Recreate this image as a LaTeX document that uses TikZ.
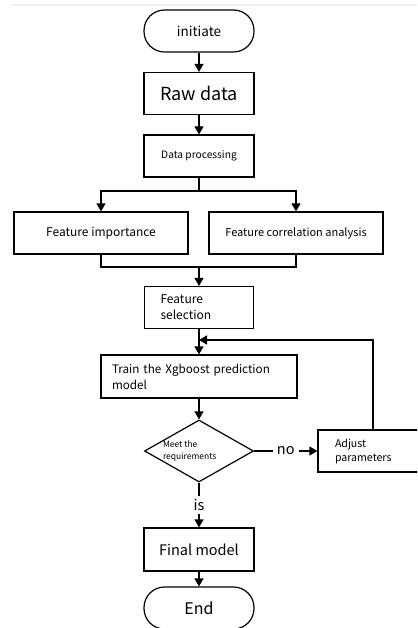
\documentclass[tikz,border=0pt]{standalone}
\usepackage{fontspec}
\setmainfont{Noto Sans CJK SC}
\usetikzlibrary{shapes.geometric, arrows.meta}

\begin{document}
\begin{tikzpicture}[x=1pt, y=-1pt,
	box/.style={draw, rectangle, line width=1.2pt, minimum height=42pt, inner sep=0pt, align=center},
	term/.style={box, rounded corners=20.5pt},
	arr/.style={-{Triangle[width=9pt,length=8pt]}, line width=1.2pt},
	line/.style={line width=1.2pt}]
		\useasboundingbox (0,0) rectangle (417,628);
		\clip (0,0) rectangle (417,628);
		\fill[white] (0,0) rectangle (417,628);
		\draw[gray!12, line width=2pt] (11,5) -- (417,5);

		% main column
		\node[term, minimum width=110pt, font=\fontsize{13.5}{16}\selectfont] (init) at (199,31) {initiate};
		\node[box, minimum width=110pt, font=\fontsize{18}{21}\selectfont] (raw) at (199,93.5) {Raw data};
		\node[box, minimum width=110pt, font=\fontsize{10.2}{12}\selectfont] (proc) at (199,156) {Data processing};

		\node[box, minimum width=174pt, font=\fontsize{12}{14}\selectfont] (imp) at (101,233) {Feature importance};
		\node[box, minimum width=174pt, font=\fontsize{11}{13}\selectfont] (corr) at (296,233) {Feature correlation analysis};

		\node[box, minimum width=109pt, text width=77pt, inner xsep=16pt, align=left, font=\fontsize{12}{16}\selectfont] (sel) at (199,307.5) {Feature\\selection};
		\node[box, minimum width=196pt, minimum height=43pt, text width=174pt, inner xsep=11pt, align=left, font=\fontsize{11.7}{16}\selectfont] (train) at (199,376.5) {Train the Xgboost prediction\\model};

		\node[draw, diamond, aspect=1.76, line width=1.2pt, minimum width=109pt, minimum height=62pt, inner sep=0pt, font=\fontsize{8.5}{12.5}\selectfont] (meet) at (199,451) {\hspace*{-21pt}\parbox{51pt}{Meet the\\requirements}};
		\node[box, minimum width=110pt, text width=76pt, inner xsep=17pt, align=left, font=\fontsize{10.6}{14}\selectfont] (adj) at (373,451) {Adjust\\parameters};

		\node[box, minimum width=110pt, minimum height=43pt, font=\fontsize{14.5}{17}\selectfont] (final) at (199,549.5) {Final model};
		\node[term, minimum width=110pt, font=\fontsize{16}{19}\selectfont] (end) at (199,608) {End};

		% connectors
		\draw[arr] (init) -- (raw);
		\draw[arr] (raw) -- (proc);
		\coordinate (split) at (199,191);
		\draw[line] (proc) -- (split);
		\draw[arr] (split) -| (imp);
		\draw[arr] (split) -| (corr);
		\coordinate (join) at (199,267);
		\draw[line] (imp.south) |- (join) -| (corr.south);
		\draw[arr] (join) -- (sel);
		\draw[arr] (sel) -- (train);
		\draw[arr] (train) -- (meet);
		\draw[arr] (meet) -- node[fill=white, inner sep=4pt, font=\fontsize{14.5}{17}\selectfont] {no} (adj);
		\draw[arr] (meet) -- node[fill=white, inner sep=3pt, font=\fontsize{14.5}{17}\selectfont] {is} (final);
		\draw[arr] (final) -- (end);

		% loop back
		\coordinate (back) at (199,340);
		\draw[arr] (adj.north) |- (back);
	\end{tikzpicture}
\end{document}
